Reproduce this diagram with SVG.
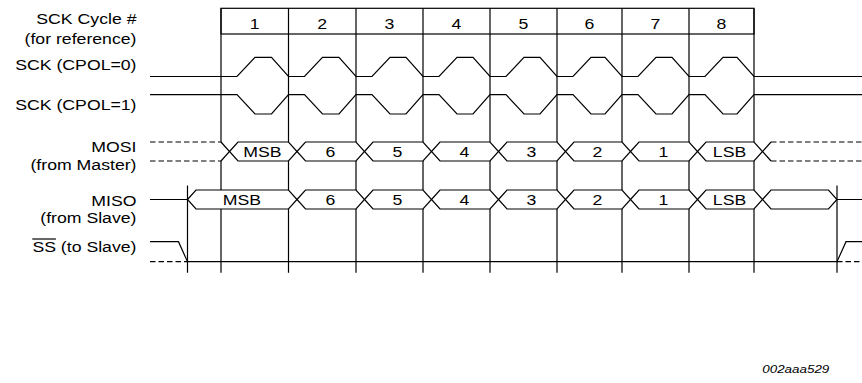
<svg xmlns="http://www.w3.org/2000/svg" width="862" height="383" viewBox="0 0 862 383">
<style>
  .t { font-family: "Liberation Sans", Arial, sans-serif; font-size: 14.5px; fill: #000; }
  .r { text-anchor: end; }
  .c { text-anchor: middle; }
  .s { fill: none; stroke: #000; stroke-width: 1.2; }
  .d { fill: none; stroke: #000; stroke-width: 1.2; stroke-dasharray: 5.5 3; }
  .f { font-family: "Liberation Sans", Arial, sans-serif; font-size: 11px; font-style: italic; fill: #000; text-anchor: end; }
</style>

<g id="labels">
  <text class="t r" transform="translate(136.5,24) scale(1.22,1)">SCK Cycle #</text>
  <text class="t r" transform="translate(136.5,44) scale(1.22,1)">(for reference)</text>
  <text class="t r" transform="translate(136.5,69.5) scale(1.22,1)">SCK (CPOL=0)</text>
  <text class="t r" transform="translate(136.5,109.5) scale(1.22,1)">SCK (CPOL=1)</text>
  <text class="t r" transform="translate(136.5,152) scale(1.22,1)">MOSI</text>
  <text class="t r" transform="translate(136.5,169.5) scale(1.22,1)">(from Master)</text>
  <text class="t r" transform="translate(136.5,205.5) scale(1.22,1)">MISO</text>
  <text class="t r" transform="translate(136.5,222.5) scale(1.22,1)">(from Slave)</text>
  <text class="t r" transform="translate(136.5,252) scale(1.22,1)">SS (to Slave)</text>
  <line class="s" x1="32.3" y1="239" x2="55.9" y2="239"/>
</g>

<g id="header">
  <rect class="s" x="221" y="8.3" width="533" height="25.7"/>
  <text class="t c" transform="translate(254.75,28.5) scale(1.22,1)">1</text>
  <text class="t c" transform="translate(322.25,28.5) scale(1.22,1)">2</text>
  <text class="t c" transform="translate(389.5,28.5) scale(1.22,1)">3</text>
  <text class="t c" transform="translate(456.5,28.5) scale(1.22,1)">4</text>
  <text class="t c" transform="translate(523.5,28.5) scale(1.22,1)">5</text>
  <text class="t c" transform="translate(589.5,28.5) scale(1.22,1)">6</text>
  <text class="t c" transform="translate(655.5,28.5) scale(1.22,1)">7</text>
  <text class="t c" transform="translate(721.5,28.5) scale(1.22,1)">8</text>
</g>

<g id="connectors">
  <path class="s" d="M221,8.3V142M221,161V190M221,209V272.7
    M288.5,8.3V142M288.5,161V190M288.5,209V272.7
    M356,8.3V142M356,161V190M356,209V272.7
    M423,8.3V142M423,161V190M423,209V272.7
    M490,8.3V142M490,161V190M490,209V272.7
    M557,8.3V142M557,161V190M557,209V272.7
    M622,8.3V142M622,161V190M622,209V272.7
    M689,8.3V142M689,161V190M689,209V272.7
    M754,8.3V142M754,161V190M754,209V272.7
    M187.5,185.5V272.7M837,185.5V272.7"/>
</g>

<g id="sck-cpol0">
  <path class="s" d="M150,76.5H237L255,57.3H271.5L288.5,76.5H304.5L322.5,57.3H339L356,76.5H372L390,57.3H406L423,76.5H439L457,57.3H473L490,76.5H506L524,57.3H540L557,76.5H573L591,57.3H605L622,76.5H638L656,57.3H672L689,76.5H705L723,57.3H737L754,76.5H862"/>
</g>

<g id="sck-cpol1">
  <path class="s" d="M150,94.7H237L255,114H271.5L288.5,94.7H304.5L322.5,114H339L356,94.7H372L390,114H406L423,94.7H439L457,114H473L490,94.7H506L524,114H540L557,94.7H573L591,114H605L622,94.7H638L656,114H672L689,94.7H705L723,114H737L754,94.7H862"/>
</g>

<g id="mosi">
  <path class="d" d="M150,142H221M150,161H221M771,142H862M771,161H862"/>
  <path class="s" d="M221,142L229.5,151.5L221,161M771,142L762.5,151.5L771,161"/>
  <polygon class="s" points="229.5,151.5 238,142 288.5,142 297,151.5 288.5,161 238,161"/>
  <polygon class="s" points="297,151.5 305.5,142 356,142 364.5,151.5 356,161 305.5,161"/>
  <polygon class="s" points="364.5,151.5 373,142 423,142 431.5,151.5 423,161 373,161"/>
  <polygon class="s" points="431.5,151.5 440,142 490,142 498.5,151.5 490,161 440,161"/>
  <polygon class="s" points="498.5,151.5 507,142 557,142 565.5,151.5 557,161 507,161"/>
  <polygon class="s" points="565.5,151.5 574,142 622,142 630.5,151.5 622,161 574,161"/>
  <polygon class="s" points="630.5,151.5 639,142 689,142 697.5,151.5 689,161 639,161"/>
  <polygon class="s" points="697.5,151.5 706,142 754,142 762.5,151.5 754,161 706,161"/>
  <text class="t c" transform="translate(262.5,156.7) scale(1.22,1)">MSB</text>
  <text class="t c" transform="translate(330.5,156.7) scale(1.22,1)">6</text>
  <text class="t c" transform="translate(397.5,156.7) scale(1.22,1)">5</text>
  <text class="t c" transform="translate(464.5,156.7) scale(1.22,1)">4</text>
  <text class="t c" transform="translate(531.5,156.7) scale(1.22,1)">3</text>
  <text class="t c" transform="translate(597.5,156.7) scale(1.22,1)">2</text>
  <text class="t c" transform="translate(663.5,156.7) scale(1.22,1)">1</text>
  <text class="t c" transform="translate(729.5,156.7) scale(1.22,1)">LSB</text>
</g>

<g id="miso">
  <path class="s" d="M150,199.5H187.5M837,199.5H862"/>
  <polygon class="s" points="187.5,199.5 196,190 288.5,190 297,199.5 288.5,209 196,209"/>
  <polygon class="s" points="297,199.5 305.5,190 356,190 364.5,199.5 356,209 305.5,209"/>
  <polygon class="s" points="364.5,199.5 373,190 423,190 431.5,199.5 423,209 373,209"/>
  <polygon class="s" points="431.5,199.5 440,190 490,190 498.5,199.5 490,209 440,209"/>
  <polygon class="s" points="498.5,199.5 507,190 557,190 565.5,199.5 557,209 507,209"/>
  <polygon class="s" points="565.5,199.5 574,190 622,190 630.5,199.5 622,209 574,209"/>
  <polygon class="s" points="630.5,199.5 639,190 689,190 697.5,199.5 689,209 639,209"/>
  <polygon class="s" points="697.5,199.5 706,190 754,190 762.5,199.5 754,209 706,209"/>
  <polygon class="s" points="762.5,199.5 771,190 828.5,190 837,199.5 828.5,209 771,209"/>
  <text class="t c" transform="translate(242,204.7) scale(1.22,1)">MSB</text>
  <text class="t c" transform="translate(330.5,204.7) scale(1.22,1)">6</text>
  <text class="t c" transform="translate(397.5,204.7) scale(1.22,1)">5</text>
  <text class="t c" transform="translate(464.5,204.7) scale(1.22,1)">4</text>
  <text class="t c" transform="translate(531.5,204.7) scale(1.22,1)">3</text>
  <text class="t c" transform="translate(597.5,204.7) scale(1.22,1)">2</text>
  <text class="t c" transform="translate(663.5,204.7) scale(1.22,1)">1</text>
  <text class="t c" transform="translate(729.5,204.7) scale(1.22,1)">LSB</text>
</g>

<g id="ss">
  <path class="s" d="M150,241.7H178.5L187.5,261.7H837L846,241.7H862"/>
  <path class="d" d="M150,261.7H187.5M837,261.7H862"/>
</g>

<g id="figure-id">
  <text class="f" transform="translate(829.3,373) scale(1.22,1)">002aaa529</text>
</g>
</svg>
